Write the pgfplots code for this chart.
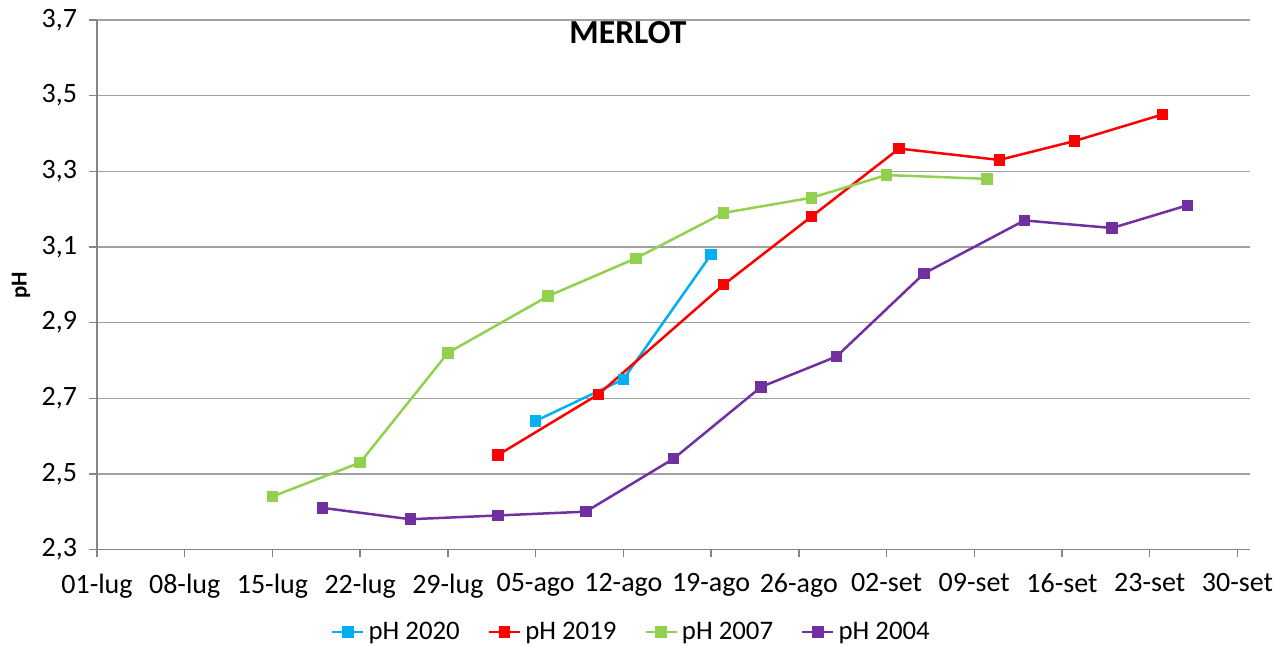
\documentclass[border=0pt]{standalone}
\usepackage{pgfplots}
\pgfplotsset{compat=1.18}
\usepackage{fontspec}
\setmainfont{Carlito}
\definecolor{c2020}{RGB}{0,176,240}
\definecolor{c2019}{RGB}{255,0,0}
\definecolor{c2007}{RGB}{146,208,80}
\definecolor{c2004}{RGB}{112,48,160}
\definecolor{axisgray}{RGB}{134,134,134}
\definecolor{gridgray}{RGB}{160,160,160}
\begin{document}
\begin{tikzpicture}
\useasboundingbox (-48.5pt,-48.25pt) rectangle (594pt,274.75pt);
\begin{axis}[
  scale only axis,
  width=576.5pt, height=264.75pt,
  xmin=0, xmax=92, ymin=2.3, ymax=3.7,
  axis x line*=bottom, axis y line*=left,
  xtick={0,7,...,91},
  xticklabels={01-lug,08-lug,15-lug,22-lug,29-lug,05-ago,12-ago,19-ago,26-ago,02-set,09-set,16-set,23-set,30-set},
  ytick={2.3,2.5,2.7,2.9,3.1,3.3,3.5,3.7},
  /pgf/number format/use comma,
  /pgf/number format/fixed,
  /pgf/number format/fixed zerofill,
  /pgf/number format/precision=1,
  /pgf/number format/assume math mode=true,
  ymajorgrids,
  grid style={draw=gridgray, line width=0.7pt},
  axis line style={draw=axisgray, line width=0.7pt},
  tick style={draw=axisgray, line width=0.7pt},
  tick align=outside, major tick length=4pt,
  ticklabel style={font=\fontsize{14}{16}\selectfont, text=black},
  yticklabel style={xshift=-2.5pt},
  xticklabel style={yshift=-4.5pt},
  every axis y label/.style={at={(axis description cs:-0.0659,0.4995)}, rotate=90, anchor=center, font=\bfseries\fontsize{11.4}{14}\selectfont},
  ylabel={pH},
  legend columns=4,
  legend style={at={(0.4644,-0.156)}, anchor=center, draw=none, fill=none,
    font=\fontsize{13.4}{16}\selectfont,
    /tikz/every even column/.append style={column sep=12pt}},
  legend image code/.code={\draw[mark repeat=2,mark phase=2] plot coordinates {(0pt,0pt) (7.75pt,0pt) (15.5pt,0pt)};},
  every axis plot/.append style={line width=1.25pt, mark=square*, mark size=2.25pt, mark options={solid}},
]
\addplot[color=c2020] coordinates {(35,2.64) (42,2.75) (49,3.08)};
\addlegendentry{pH 2020}
\addplot[color=c2019] coordinates {(32,2.55) (40,2.71) (50,3.00) (57,3.18) (64,3.36) (72,3.33) (78,3.38) (85,3.45)};
\addlegendentry{pH 2019}
\addplot[color=c2007] coordinates {(14,2.44) (21,2.53) (28,2.82) (36,2.97) (43,3.07) (50,3.19) (57,3.23) (63,3.29) (71,3.28)};
\addlegendentry{pH 2007}
\addplot[color=c2004] coordinates {(18,2.41) (25,2.38) (32,2.39) (39,2.40) (46,2.54) (53,2.73) (59,2.81) (66,3.03) (74,3.17) (81,3.15) (87,3.21)};
\addlegendentry{pH 2004}
\node[font=\bfseries\fontsize{16.8}{20}\selectfont] at (rel axis cs:0.4605,0.977) {MERLOT};
\end{axis}
\end{tikzpicture}
\end{document}
